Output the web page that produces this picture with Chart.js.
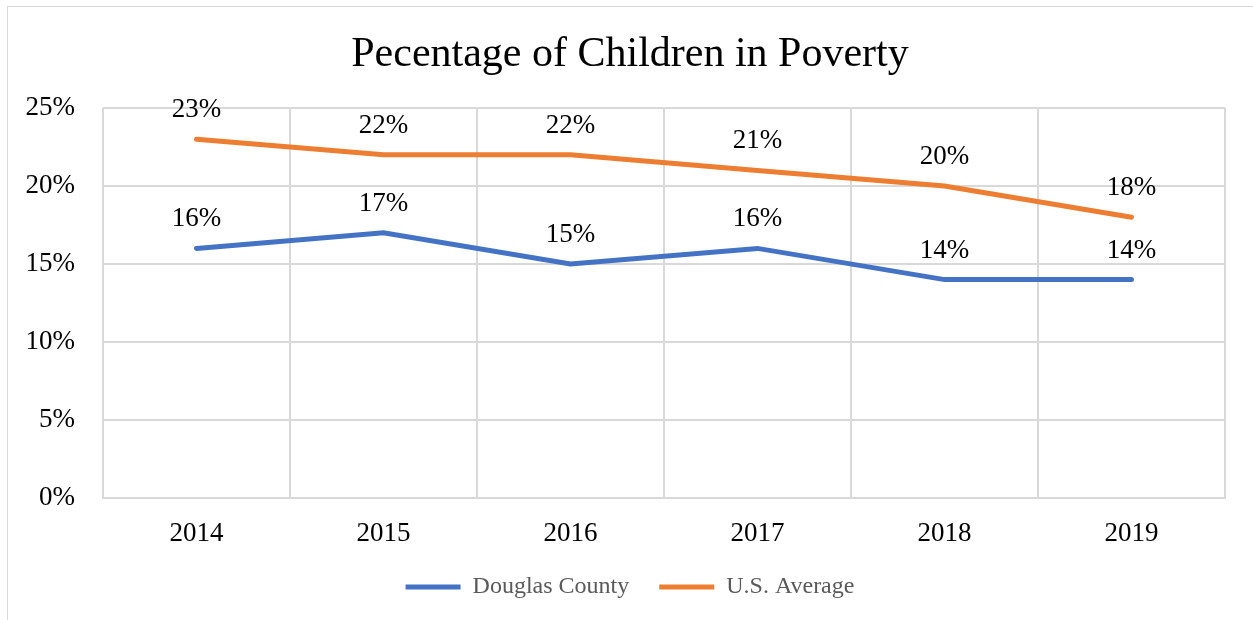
<!DOCTYPE html>
<html>
<head>
<meta charset="utf-8">
<script src="https://cdn.jsdelivr.net/npm/chart.js@4.4.1/dist/chart.umd.min.js"></script>
<style>
    html, body { margin: 0; padding: 0; background: #fff; }
    #wrap { position: relative; width: 1253px; height: 620px; overflow: hidden; }
    #frame { position: absolute; left: 7px; top: 6px; width: 1250px; height: 640px; border: 1px solid #d9d9d9; box-sizing: border-box; }
    #povertyChart { position: absolute; left: 0; top: 0; }
</style>
</head>
<body>
<div id="wrap">
    <div id="frame"></div>
    <canvas id="povertyChart" width="1253" height="620"></canvas>
</div>
<script>
const years = ['2014', '2015', '2016', '2017', '2018', '2019'];
const douglasCounty = [16, 17, 15, 16, 14, 14];
const usAverage = [23, 22, 22, 21, 20, 18];
const yTicks = [0, 5, 10, 15, 20, 25];

const serif = '"Liberation Serif", "Times New Roman", serif';
const gridGray = '#d9d9d9';

// prints each point's value just above the line
const pointLabels = {
    id: 'pointLabels',
    afterDatasetsDraw(chart) {
        const ctx = chart.ctx;
        ctx.save();
        ctx.font = '27px ' + serif;
        ctx.fillStyle = '#000';
        ctx.textAlign = 'center';
        ctx.textBaseline = 'middle';
        chart.data.datasets.forEach((ds, i) => {
            chart.getDatasetMeta(i).data.forEach((pt, j) => {
                ctx.fillText(ds.data[j] + '%', pt.x, pt.y - 29);
            });
        });
        ctx.restore();
    }
};

new Chart(document.getElementById('povertyChart'), {
    type: 'line',
    data: {
        labels: years,
        datasets: [
            {
                label: 'Douglas County',
                data: douglasCounty,
                borderColor: '#4472c4',
                backgroundColor: '#4472c4',
                borderWidth: 5,
                borderCapStyle: 'round',
                pointRadius: 0,
                tension: 0
            },
            {
                label: 'U.S. Average',
                data: usAverage,
                borderColor: '#ed7d31',
                backgroundColor: '#ed7d31',
                borderWidth: 5,
                borderCapStyle: 'round',
                pointRadius: 0,
                tension: 0
            }
        ]
    },
    options: {
        responsive: false,
        animation: false,
        layout: { padding: { left: 15, right: 8, top: 0, bottom: 11 } },
        plugins: {
            title: {
                display: true,
                text: 'Pecentage of Children in Poverty',
                color: '#000',
                font: { family: serif, size: 42, weight: 'normal', lineHeight: 1.2 },
                padding: { top: 30, bottom: 27.6 }
            },
            legend: {
                position: 'bottom',
                labels: {
                    usePointStyle: true,
                    pointStyle: 'line',
                    pointStyleWidth: 55,
                    color: '#595959',
                    padding: 30,
                    font: { family: serif, size: 24 }
                }
            },
            tooltip: { enabled: false }
        },
        scales: {
            x: {
                offset: true,
                grid: { offset: true, color: gridGray, lineWidth: 2, drawTicks: false },
                border: { color: gridGray, width: 2 },
                ticks: { color: '#000', padding: 20, font: { family: serif, size: 27 } },
                afterFit(scale) { scale.height = 47; }
            },
            y: {
                min: 0,
                max: 25,
                afterBuildTicks(scale) { scale.ticks = yTicks.map(v => ({ value: v })); },
                grid: { color: gridGray, lineWidth: 2, drawTicks: false },
                border: { display: false },
                ticks: {
                    color: '#000',
                    padding: 28,
                    font: { family: serif, size: 27 },
                    callback: v => v + '%'
                },
                afterFit(scale) { scale.width = 88; }
            },
            // empty strip on the right so the plot stops short of the title's right edge
            yRight: {
                position: 'right',
                grid: { display: false },
                border: { display: false },
                ticks: { display: false },
                afterFit(scale) { scale.width = 20; }
            }
        }
    },
    plugins: [pointLabels]
});
</script>
</body>
</html>
